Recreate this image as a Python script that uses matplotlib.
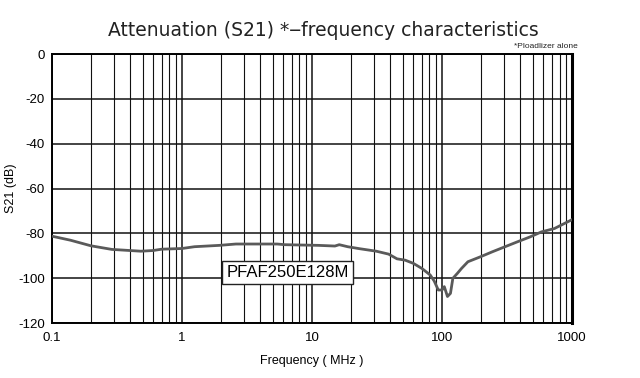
import numpy as np
import matplotlib
matplotlib.use('Agg')
import matplotlib.pyplot as plt
from matplotlib.ticker import FixedLocator, NullFormatter

# ---- data --------------------------------------------------------------------------
freq_mhz = [0.1, 0.139, 0.2, 0.289, 0.483, 0.6, 0.7, 1.0, 1.25, 1.94, 2.6, 5.4, 6.2,
            11.2, 15, 16.2, 18.8, 23.3, 31.2, 38.8, 45, 52, 60, 70, 81, 87, 93.5, 100,
            104, 110, 116, 121, 131, 141, 158, 197, 245, 305, 380, 476, 580, 730, 1000]
s21_db = [-81.2, -83.0, -85.5, -87.1, -87.9, -87.6, -87.0, -86.7, -85.9, -85.3, -84.7,
          -84.7, -85.0, -85.3, -85.6, -85.0, -85.9, -86.8, -87.9, -89.2, -91.3, -91.9,
          -93.3, -95.6, -98.5, -101.2, -105.2, -105.2, -103.7, -108.1, -106.7, -100.0,
          -97.8, -95.6, -92.6, -90.4, -88.1, -85.9, -83.7, -81.5, -79.3, -77.8, -73.8]
x_ticks = [0.1, 1, 10, 100, 1000]
x_tick_labels = ['0.1', '1', '10', '100', '1000']
y_ticks = [0, -20, -40, -60, -80, -100, -120]
part_name = 'PFAF250E128M'

fig = plt.figure(figsize=(6.4, 3.78), dpi=100)
ax = fig.add_axes([0.081, 0.145, 0.813, 0.712])

ax.plot(freq_mhz, s21_db, color='#5a5a5a', lw=2.0, zorder=3)
ax.set_xscale('log')
ax.set_xlim(0.1, 1000)
ax.set_ylim(-120, 0)

minor = [m * 10.0 ** e for e in range(-1, 3) for m in range(2, 10)]
ax.xaxis.set_major_locator(FixedLocator(x_ticks))
ax.xaxis.set_minor_locator(FixedLocator(minor))
ax.xaxis.set_minor_formatter(NullFormatter())
ax.set_xticks(x_ticks, x_tick_labels)
ax.set_yticks(y_ticks, [str(v) for v in y_ticks])
ax.grid(which='major', axis='both', color='#111', lw=1.1)
ax.grid(which='minor', axis='x', color='#111', lw=0.8)
ax.tick_params(which='both', length=0, labelsize=9.5)
ax.tick_params(axis='x', pad=6)
ax.tick_params(axis='y', pad=5)
for s in ax.spines.values():
    s.set_linewidth(1.4)
ax.spines['right'].set_linewidth(2.2)

for lab in ax.get_xticklabels() + ax.get_yticklabels():
    lab.set_family('Liberation Sans')

ax.text(6.5, -97.5, part_name, ha='center', va='center', fontsize=12,
        family='Liberation Sans', zorder=4,
        bbox=dict(boxstyle='square,pad=0.25', fc='white', ec='#222', lw=1.0))

ax.set_xlabel('Frequency ( MHz )', fontsize=9, family='Liberation Sans', labelpad=8)
ax.set_ylabel('S21 (dB)', fontsize=9, family='Liberation Sans')
ax.yaxis.set_label_coords(-0.066, 0.5)

fig.text(0.505, 0.918, 'Attenuation (S21) *\u2012frequency characteristics',
         ha='center', va='center', fontsize=13.5, color='#222')
fig.text(0.903, 0.878, '*Ploadlizer alone', ha='right', va='center',
         fontsize=6, family='Liberation Sans', color='#222')

fig.savefig('out.png', dpi=100, facecolor='white')
